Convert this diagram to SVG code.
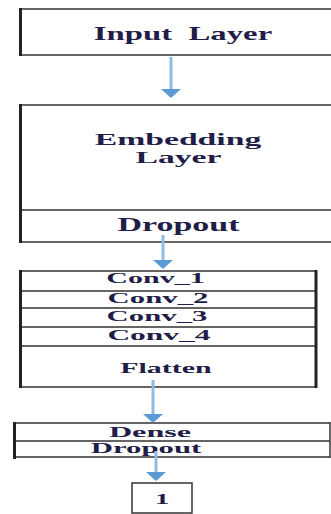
<svg xmlns="http://www.w3.org/2000/svg" width="331" height="514" viewBox="0 0 331 514">
<defs>
<marker id="ah" viewBox="0 -10 9 20" refX="0" refY="0" markerWidth="9" markerHeight="20" markerUnits="userSpaceOnUse" orient="auto">
<path d="M0,-10 L9,0 L0,10 z" fill="#5B9BD5"/>
</marker>
<style>
.box{fill:#fff;stroke:#333;stroke-width:1.5}
.ln{stroke:#333;stroke-width:1.5}
.lb{stroke:#222;stroke-width:3}
.t{font-family:"Liberation Serif","Times New Roman",serif;font-weight:bold;fill:#221d48;text-anchor:middle}
.arr{stroke:#8fbbe3;stroke-width:3;fill:none;marker-end:url(#ah)}
</style>
</defs>
<rect width="331" height="514" fill="#fff"/>
<g id="input">
<path class="ln" d="M20,9 H332 M20,55 H332"/>
<line class="lb" x1="20.5" y1="8" x2="20.5" y2="56"/>
<text class="t" transform="translate(183,40) scale(1.82,1)" font-size="18" xml:space="preserve">Input  Layer</text>
</g>
<g id="embedding">
<path class="ln" d="M20,105 H332 M20,210 H332 M20,242 H332"/>
<line class="lb" x1="20.5" y1="104" x2="20.5" y2="243"/>
<text class="t" transform="translate(178,145) scale(1.98,1)" font-size="17">Embedding</text>
<text class="t" transform="translate(178.5,163) scale(1.98,1)" font-size="17">Layer</text>
<text class="t" transform="translate(178.5,231) scale(1.89,1)" font-size="18">Dropout</text>
</g>
<g id="conv">
<path class="ln" d="M20,271 H316 M20,291 H316 M20,308 H316 M20,327 H316 M20,346 H316 M20,387 H316"/>
<line class="lb" x1="20.5" y1="270" x2="20.5" y2="388"/>
<line class="lb" x1="316" y1="270" x2="316" y2="388"/>
<text class="t" transform="translate(155.5,283) scale(2,1)" font-size="15">Conv_1</text>
<text class="t" transform="translate(158,302.5) scale(2.05,1)" font-size="15">Conv_2</text>
<text class="t" transform="translate(157,321) scale(2.05,1)" font-size="15">Conv_3</text>
<text class="t" transform="translate(159,339.5) scale(2.1,1)" font-size="15">Conv_4</text>
<text class="t" transform="translate(166,373) scale(2,1)" font-size="15">Flatten</text>
</g>
<g id="dense">
<path class="ln" d="M14,423 H330 M14,441 H330 M14,457 H330"/>
<line class="lb" x1="14.5" y1="422" x2="14.5" y2="459"/>
<line class="ln" x1="330" y1="422" x2="330" y2="458" stroke="#888"/>
<text class="t" transform="translate(150,437) scale(2.3,1)" font-size="14">Dense</text>
<text class="t" transform="translate(146,453) scale(2.2,1)" font-size="14">Dropout</text>
</g>
<g id="output">
<rect class="box" x="132" y="483" width="60" height="30" stroke-width="2"/>
<text class="t" transform="translate(162,504) scale(1.9,1)" font-size="15">1</text>
</g>
<g id="connectors">
<line class="arr" x1="171" y1="57" x2="171" y2="89"/>
<line class="arr" x1="163" y1="235" x2="163" y2="260"/>
<line class="arr" x1="153" y1="380" x2="153" y2="414"/>
<line class="arr" x1="156" y1="451" x2="156" y2="472"/>
</g>
</svg>
